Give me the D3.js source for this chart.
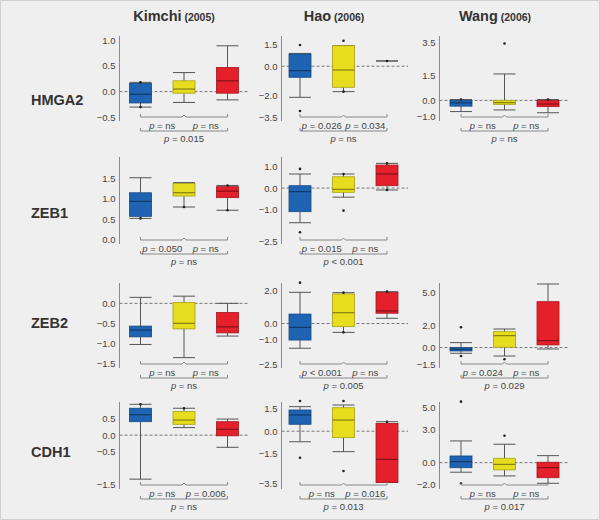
<!DOCTYPE html>
<html><head><meta charset="utf-8">
<script src="https://cdn.jsdelivr.net/npm/d3@7"></script>
<style>body{margin:0;background:#efefef}svg{display:block}</style>
</head><body><svg id="c" width="600" height="520"></svg>
<script>
// ---------- DATA ----------
const studies = ["Kimchi", "Hao", "Wang"];
const years = ["(2005)", "(2006)", "(2006)"];
const genes = ["HMGA2", "ZEB1", "ZEB2", "CDH1"];
const groups = ["group1", "group2", "group3"];

// each box: [lower whisker, Q1, median, Q3, upper whisker]
const kimchiBoxes = [
  [[-0.30,-0.22,-0.05,0.16,0.18],[-0.21,-0.03,0.05,0.21,0.37],[-0.16,-0.03,0.21,0.47,0.89]],
  [[0.52,0.57,0.94,1.15,1.52],[0.80,1.07,1.15,1.38,1.40],[0.72,1.03,1.19,1.30,1.33]],
  [[-1.03,-0.84,-0.67,-0.57,0.15],[-1.36,-0.64,-0.50,0.02,0.18],[-0.82,-0.74,-0.59,-0.23,0.00]],
  [[-1.34,0.41,0.62,0.82,0.94],[0.23,0.33,0.46,0.72,0.82],[-0.37,-0.02,0.18,0.41,0.49]]
];
const haoBoxes = [
  [[-2.14,-0.76,-0.31,0.84,0.88],[-1.75,-1.45,-0.26,1.41,1.41],[0.36,0.36,0.36,0.36,0.36]],
  [[-1.63,-1.11,-0.17,0.11,0.66],[-0.43,-0.20,-0.06,0.53,0.66],[-0.09,0.11,0.66,1.08,1.16]],
  [[-1.51,-1.01,-0.23,0.58,1.91],[-0.54,-0.19,0.66,1.81,1.89],[0.32,0.63,0.77,1.91,1.95]],
  [[-0.70,0.46,1.08,1.41,1.63],[-1.36,-0.43,0.74,1.56,1.74],[-3.40,-3.40,-1.87,0.52,0.63]]
];
const wangBoxes = [
  [[-0.68,-0.35,-0.15,0.00,0.05],[-0.58,-0.24,-0.14,0.00,1.60],[-0.75,-0.38,-0.22,0.00,0.05]],
  null,
  [[-0.52,-0.31,-0.15,0.00,0.45],[-0.77,0.03,1.08,1.45,1.69],[-0.13,0.24,0.63,4.18,5.79]],
  [[-0.87,-0.46,0.09,0.61,1.98],[-1.21,-0.66,-0.15,0.40,1.68],[-1.88,-1.37,-0.46,0.04,0.64]]
];

// points: [group index, value]
const kimchiPoints = [
  [[0,0.18],[0,-0.30]],
  [[0,0.52],[1,0.80],[2,0.72],[2,1.33]],
  [],
  [[0,0.94],[1,0.82]]
];
const haoPoints = [
  [[0,1.46],[0,-3.08],[1,1.75],[1,-1.75],[2,0.36]],
  [[0,0.90],[0,-2.08],[1,0.66],[1,-1.06],[2,1.16],[2,-0.09]],
  [[0,2.50],[1,1.89],[1,-0.54],[2,1.95]],
  [[0,2.01],[0,-1.76],[1,2.01],[1,-2.64],[2,0.63]]
];
const wangPoints = [
  [[1,3.45],[0,0.05],[2,0.05]],
  null,
  [[0,1.85],[0,-0.77],[1,-1.07]],
  [[0,5.56],[0,-1.88],[1,2.46]]
];

const kimchiTicks = [[1.0,0.5,0.0,-0.5],[1.5,1.0,0.5,0.0],[0.0,-0.5,-1.0,-1.5],[0.5,0.0,-0.5,-1.5]];
const haoTicks = [[1.5,0.0,-2.0,-3.5],[1.0,0.0,-1.0,-2.5],[2.0,0.0,-1.0,-2.5],[1.5,0.0,-1.5,-3.5]];
const wangTicks = [[3.5,1.5,0.0,-1.0],null,[5.0,2.0,0.0,-1.5],[5.0,3.0,0.0,-2.0]];

const kimchiDomains = [[-0.57,1.08],[-0.11,2.03],[-1.62,0.51],[-1.64,1.01]];
const haoDomains = [[-3.77,2.08],[-2.63,1.46],[-2.72,2.48],[-3.84,1.94]];
const wangDomains = [[-1.25,3.90],null,[-1.86,5.88],[-2.40,5.53]];

// p values: [group1 vs group2, group2 vs group3, group1 vs group3]
const kimchiP = [["ns","ns","0.015"],["0.050","ns","ns"],["ns","ns","ns"],["ns","0.006","ns"]];
const haoP = [["0.026","0.034","ns"],["0.015","ns","< 0.001"],["< 0.001","ns","0.005"],["ns","0.016","0.013"]];
const wangP = [["ns","ns","ns"],null,["0.024","ns","0.029"],["ns","ns","0.017"]];

// ---------- LAYOUT / STYLE ----------
const boxesBy = [kimchiBoxes, haoBoxes, wangBoxes];
const pointsBy = [kimchiPoints, haoPoints, wangPoints];
const ticksBy = [kimchiTicks, haoTicks, wangTicks];
const domainsBy = [kimchiDomains, haoDomains, wangDomains];
const pBy = [kimchiP, haoP, wangP];

const colAxisX = [119.5, 281.5, 439.5];
const colFirst = [140.5, 300, 461];
const groupStep = 43.5;
const rowTop = [36, 157, 283, 402];
const rowBottom = [121, 244, 368, 489];
const rowLabelY = [100, 213, 323, 452];
const titleX = [174, 334, 495];
const fills = ["#1f64b2", "#e6dd1e", "#e4202a"];
const boxW = 22;
const font = "Liberation Sans, Arial, Helvetica, sans-serif";

const svg = d3.select("#c");
svg.append("rect").attr("x",0.5).attr("y",0.5).attr("width",599).attr("height",519)
  .attr("fill","#efefef").attr("stroke","#cfcfcf");

// column titles
studies.forEach((s, c) => {
  const t = svg.append("text").attr("x", titleX[c]).attr("y", 21)
    .attr("text-anchor","middle").attr("font-family", font).attr("font-weight","bold")
    .attr("fill","#333");
  t.append("tspan").attr("font-size", 14.5).text(s);
  t.append("tspan").attr("font-size", 10.5).text(" " + years[c]);
});

// row labels
genes.forEach((g, r) => {
  svg.append("text").attr("x", 31).attr("y", rowLabelY[r]).attr("dy","0.35em")
    .attr("font-family", font).attr("font-weight","bold").attr("font-size", 14.5)
    .attr("fill","#333").text(g);
});

function pText(sel, v) {
  sel.append("tspan").attr("font-style","italic").text("p");
  sel.append("tspan").text(v.startsWith("<") ? " " + v : " = " + v);
}

for (let c = 0; c < 3; c++) {
  for (let r = 0; r < 4; r++) {
    const boxes = boxesBy[c][r];
    if (!boxes) continue;
    const dom = domainsBy[c][r];
    const y = d3.scaleLinear().domain(dom).range([rowBottom[r], rowTop[r]]);
    const x = d3.scalePoint().domain(groups).range([colFirst[c], colFirst[c] + 2 * groupStep]);
    const g = svg.append("g");
    const ax = colAxisX[c];

    // axis
    const axis = d3.axisLeft(y).tickValues(ticksBy[c][r]).tickFormat(d3.format(".1f")).tickSize(0).tickPadding(4);
    const ag = g.append("g").attr("transform", `translate(${ax},0)`).call(axis);
    ag.select(".domain").attr("stroke","#8a8a8a").attr("d", `M0,${rowTop[r]}V${rowBottom[r]}`);
    ag.selectAll("text").attr("font-family", font).attr("font-size", 9.5).attr("fill","#444");

    // zero line
    if (dom[0] < -0.2) {
      g.append("line").attr("x1", ax).attr("x2", x(groups[2]) + 21)
        .attr("y1", y(0)).attr("y2", y(0))
        .attr("stroke","#777").attr("stroke-dasharray","3,2");
    }

    boxes.forEach((b, i) => {
      const cx = x(groups[i]);
      const col = d3.color(fills[i]);
      const wl = "#555";
      g.append("line").attr("x1",cx).attr("x2",cx).attr("y1",y(b[4])).attr("y2",y(b[3])).attr("stroke",wl);
      g.append("line").attr("x1",cx).attr("x2",cx).attr("y1",y(b[1])).attr("y2",y(b[0])).attr("stroke",wl);
      [b[0], b[4]].forEach(v => {
        g.append("line").attr("x1",cx-boxW/2).attr("x2",cx+boxW/2).attr("y1",y(v)).attr("y2",y(v)).attr("stroke",wl);
      });
      if (b[3] - b[1] > 1e-6) {
        g.append("rect").attr("x", cx - boxW/2).attr("width", boxW)
          .attr("y", y(b[3])).attr("height", y(b[1]) - y(b[3]))
          .attr("fill", fills[i]).attr("stroke", col.darker(0.9)).attr("stroke-width",0.8);
        g.append("line").attr("x1",cx-boxW/2).attr("x2",cx+boxW/2).attr("y1",y(b[2])).attr("y2",y(b[2]))
          .attr("stroke", col.darker(2)).attr("stroke-width",1);
      }
    });

    (pointsBy[c][r] || []).forEach(p => {
      g.append("circle").attr("cx", x(groups[p[0]])).attr("cy", y(p[1])).attr("r", 1.3).attr("fill","#222");
    });

    // brackets
    const rb = rowBottom[r];
    const xb = x(groups[0]), xy = x(groups[1]), xr = x(groups[2]);
    const b1 = rb - 4, b2 = rb + 10;
    g.append("path").attr("d", `M${xb},${b1-3}V${b1}H${xy-2}L${xy},${b1-2}L${xy+2},${b1}H${xr}V${b1-3}`)
      .attr("fill","none").attr("stroke","#888");
    g.append("path").attr("d", `M${xb},${b2-3}V${b2}H${xr}V${b2-3}`)
      .attr("fill","none").attr("stroke","#888");
    const pv = pBy[c][r];
    const lbl = (xx, yy, v) => {
      const t = g.append("text").attr("x", xx).attr("y", yy).attr("text-anchor","middle")
        .attr("font-family", font).attr("font-size", 9.5).attr("fill","#444");
      pText(t, v);
    };
    lbl((xb + xy) / 2, rb + 7.5, pv[0]);
    lbl((xy + xr) / 2, rb + 7.5, pv[1]);
    lbl(xy, rb + 21, pv[2]);
  }
}
</script></body></html>
